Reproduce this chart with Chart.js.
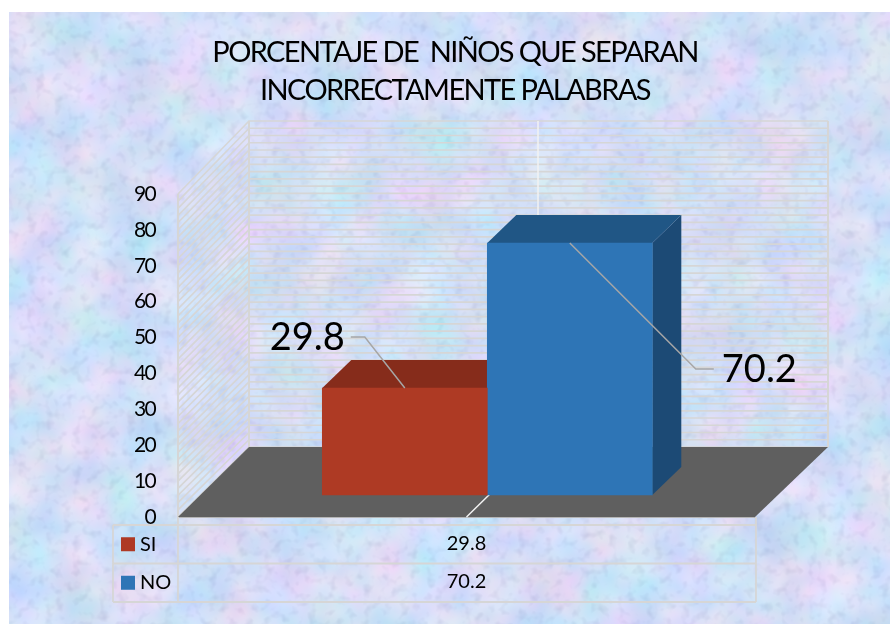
<!DOCTYPE html>
<html lang="es">
<head>
<meta charset="utf-8">
<title>Porcentaje de niños que separan incorrectamente palabras</title>
<script src="https://cdn.jsdelivr.net/npm/chart.js@4"></script>
<style>
  html,body{margin:0;padding:0;background:#fff;overflow:hidden}
  #wrap{position:relative;width:890px;height:624px}
  #tex{position:absolute;left:9px;top:12px;width:881px;height:612px;display:block}
  #c{position:absolute;left:0;top:0}
</style>
</head>
<body>
<div id="wrap">
<svg id="tex" xmlns="http://www.w3.org/2000/svg" width="881" height="612">
  <filter id="paper" x="0" y="0" width="100%" height="100%" color-interpolation-filters="sRGB">
    <feTurbulence type="fractalNoise" baseFrequency="0.02" numOctaves="3" seed="11" result="n1"/>
    <feColorMatrix in="n1" type="matrix" values="0.30 0 0 0 0.68  0 0.15 0 0 0.80  0 0 0.10 0 0.92  0 0 0 0 1" result="blot"/>
    <feTurbulence type="fractalNoise" baseFrequency="0.11" numOctaves="2" seed="4" result="n2"/>
    <feColorMatrix in="n2" type="matrix" values="0.20 0 0 0 0.90  0.20 0 0 0 0.90  0.14 0 0 0 0.93  0 0 0 0 1" result="grain"/>
    <feBlend in="blot" in2="grain" mode="multiply"/>
  </filter>
  <rect width="881" height="612" filter="url(#paper)"/>
</svg>
<canvas id="c" width="890" height="624"></canvas>
</div>
<script>
const titleLines = ['PORCENTAJE DE  NIÑOS QUE SEPARAN', 'INCORRECTAMENTE PALABRAS'];
const seriesNames = ['SI', 'NO'];
const seriesValues = [29.8, 70.2];
const seriesFront = ['#ae3a24', '#2e75b6'];
const seriesTop = ['#862c1b', '#205685'];
const seriesSide = ['#6f2416', '#1c4a75'];
const yTicks = [0, 10, 20, 30, 40, 50, 60, 70, 80, 90];

const FONT = 'Lato, "Open Sans", sans-serif';
const GRID = '#d6d6d6';

const scene = {
  id: 'scene',
  beforeDraw(chart) { chart.ctx.letterSpacing = '-1.62px'; },
  afterDraw(chart) { chart.ctx.letterSpacing = '0px'; },
  beforeDatasetsDraw(chart) {
    const ctx = chart.ctx, y = chart.scales.y, a = chart.chartArea;
    const L = a.left, R = a.right, dx = 71, dy = 70, dxR = 73, stretch = 326 / 323;
    const y0 = y.getPixelForValue(0), y90 = y.getPixelForValue(90);
    const back = p => y0 - dy - (y0 - p) * stretch;
    ctx.save();
    ctx.letterSpacing = '0px';
    ctx.strokeStyle = GRID;
    ctx.lineWidth = 1.7;
    for (let v = 0; v <= 90; v += 2) {
      const p = y.getPixelForValue(v);
      ctx.beginPath();
      ctx.moveTo(L, p);
      ctx.lineTo(L + dx, back(p));
      ctx.lineTo(R + dxR, back(p));
      ctx.stroke();
    }
    ctx.lineWidth = 2;
    ctx.beginPath();
    ctx.moveTo(L + dx, back(y90)); ctx.lineTo(L + dx, y0 - dy);
    ctx.moveTo(R + dxR, back(y90)); ctx.lineTo(R + dxR, y0 - dy);
    ctx.moveTo(L, y90); ctx.lineTo(L, y0);
    ctx.stroke();
    // floor
    ctx.fillStyle = '#5f5f5f';
    ctx.beginPath();
    ctx.moveTo(L, y0); ctx.lineTo(R, y0); ctx.lineTo(R + dxR, y0 - dy); ctx.lineTo(L + dx, y0 - dy);
    ctx.closePath(); ctx.fill();
    ctx.strokeStyle = '#b5b5b5'; ctx.lineWidth = 1;
    ctx.beginPath(); ctx.moveTo(L, y0 + .5); ctx.lineTo(R, y0 + .5); ctx.stroke();
    // category divider on wall and floor
    const mid = (L + R) / 2;
    ctx.strokeStyle = '#f2f2f2'; ctx.lineWidth = 1.5;
    ctx.beginPath();
    ctx.moveTo(mid + dx + .5, back(y90));
    ctx.lineTo(mid + dx + .5, y0 - dy);
    ctx.lineTo(mid, y0);
    ctx.stroke();
    // depth faces of the bars, behind every front face
    seriesNames.forEach((_, i) => {
      const b = chart.getDatasetMeta(i).data[0];
      const l = b.x - b.width / 2, r = b.x + b.width / 2, t = b.y, base = b.base;
      const d = 29, e = 28;
      ctx.fillStyle = seriesSide[i];
      ctx.beginPath();
      ctx.moveTo(r, t); ctx.lineTo(r + d, t - e); ctx.lineTo(r + d, base - e); ctx.lineTo(r, base);
      ctx.closePath(); ctx.fill();
      ctx.fillStyle = seriesTop[i];
      ctx.beginPath();
      ctx.moveTo(l, t); ctx.lineTo(l + d, t - e); ctx.lineTo(r + d, t - e); ctx.lineTo(r, t);
      ctx.closePath(); ctx.fill();
    });
    ctx.restore();
  },
  afterDatasetsDraw(chart) {
    const ctx = chart.ctx, a = chart.chartArea;
    const [s, n] = [0, 1].map(i => chart.getDatasetMeta(i).data[0]);
    ctx.save();
    ctx.letterSpacing = '0px';
    // leader lines
    ctx.strokeStyle = '#a6a6a6'; ctx.lineWidth = 1.5;
    ctx.beginPath();
    ctx.moveTo(s.x, s.y); ctx.lineTo(s.x - 40, s.y - 51); ctx.lineTo(s.x - 54, s.y - 51);
    ctx.moveTo(n.x, n.y); ctx.lineTo(n.x + 126, n.y + 126); ctx.lineTo(n.x + 144, n.y + 126);
    ctx.stroke();
    // data labels
    ctx.fillStyle = '#000';
    ctx.font = '38px ' + FONT;
    ctx.textBaseline = 'middle';
    ctx.textAlign = 'right';
    ctx.fillText(seriesValues[0].toFixed(1), s.x - 60, s.y - 50);
    ctx.textAlign = 'left';
    ctx.fillText(seriesValues[1].toFixed(1), n.x + 152, n.y + 127);
    // data table
    const L = a.left, R = a.right, y0 = a.bottom;
    const left = 113, rowTop = 525, rowH = 38.5;
    ctx.strokeStyle = GRID; ctx.lineWidth = 1.8;
    ctx.beginPath();
    ctx.moveTo(L, y0); ctx.lineTo(L, rowTop + 2 * rowH);
    ctx.moveTo(R + 1, y0); ctx.lineTo(R + 1, rowTop + 2 * rowH);
    ctx.moveTo(left, rowTop); ctx.lineTo(left, rowTop + 2 * rowH);
    for (let k = 0; k <= 2; k++) {
      ctx.moveTo(left, rowTop + k * rowH); ctx.lineTo(R + 1, rowTop + k * rowH);
    }
    ctx.stroke();
    ctx.font = '20px ' + FONT;
    seriesNames.forEach((name, k) => {
      const cy = rowTop + (k + .5) * rowH;
      ctx.fillStyle = seriesFront[k];
      ctx.fillRect(121, cy - 7, 14, 14);
      ctx.fillStyle = '#000';
      ctx.textAlign = 'left';
      ctx.fillText(name, 140, cy);
      ctx.textAlign = 'center';
      ctx.fillText(seriesValues[k].toFixed(1), (L + R) / 2, cy - 1);
    });
    ctx.restore();
  }
};

new Chart(document.getElementById('c'), {
  type: 'bar',
  data: {
    datasets: seriesNames.map((name, i) => ({
      label: name,
      data: [{ x: 0, y: seriesValues[i] }],
      backgroundColor: seriesFront[i],
      borderWidth: 0,
      barThickness: 165,
      yAxisID: 'yBars'
    }))
  },
  options: {
    responsive: false,
    animation: false,
    events: [],
    layout: { padding: { left: 20, right: 0, top: 0, bottom: 107 } },
    plugins: {
      legend: { display: false },
      tooltip: { enabled: false },
      title: {
        display: true,
        text: titleLines,
        color: '#000',
        font: { family: FONT, size: 29, weight: 'normal', lineHeight: 1.3 },
        padding: { top: 34, bottom: 84.6 }
      }
    },
    scales: {
      x: { type: 'linear', display: false, min: -1.0901, max: 0.9099 },
      y: {
        position: 'left',
        min: 0, max: 90,
        afterBuildTicks(s) { s.ticks = yTicks.map(v => ({ value: v })); },
        afterFit(s) { s.width = 158; },
        grid: { display: false, drawTicks: false },
        border: { display: false },
        ticks: { color: '#000', padding: 23, font: { family: FONT, size: 21 } }
      },
      yBars: {
        position: 'right',
        min: -6.13, max: 83.87,
        afterFit(s) { s.width = 135; },
        grid: { display: false, drawTicks: false },
        border: { display: false },
        ticks: { display: false }
      }
    }
  },
  plugins: [scene]
});
</script>
</body>
</html>
